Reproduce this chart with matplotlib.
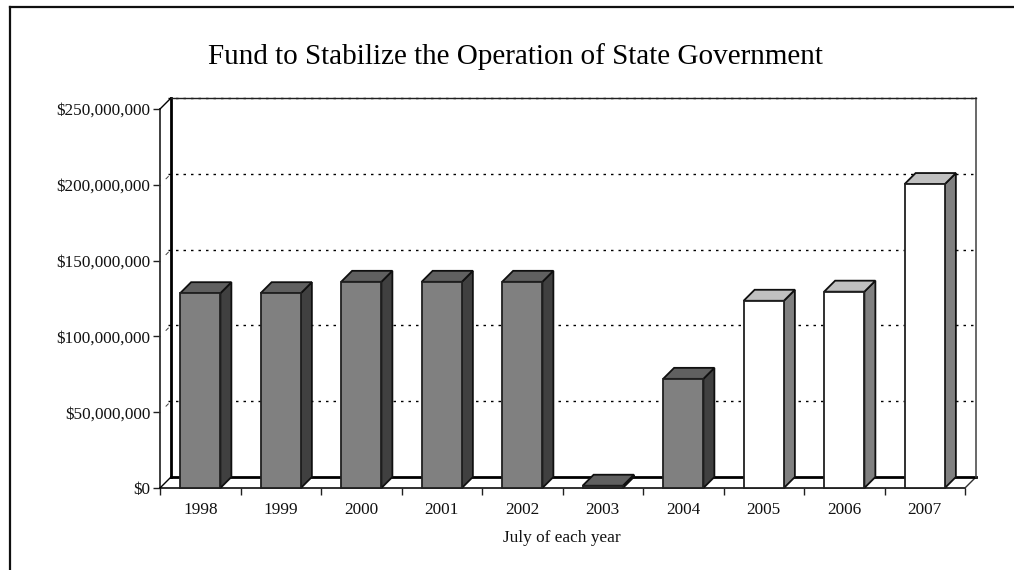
import matplotlib
matplotlib.use("Agg")
import matplotlib.pyplot as plt
from matplotlib.lines import Line2D
from matplotlib.patches import Polygon
import numpy as np

years = ["1998", "1999", "2000", "2001", "2002", "2003", "2004", "2005", "2006", "2007"]
balance = [128.5e6, 128.5e6, 136e6, 136e6, 136e6, 1.5e6, 72e6, 123.5e6, 129.5e6, 200.5e6]
projected = [False, False, False, False, False, False, False, True, True, True]
y_ticks = [0, 50e6, 100e6, 150e6, 200e6, 250e6]
y_labels = ["$0", "$50,000,000", "$100,000,000", "$150,000,000", "$200,000,000", "$250,000,000"]

W, H = 1014, 570
plt.rcParams["font.family"] = ["Liberation Serif", "DejaVu Serif"]

fig = plt.figure(figsize=(W / 100, H / 100), dpi=100)
ax = fig.add_axes([160 / W, (H - 488) / H, 805 / W, 379 / H])
ax.set_xlim(-0.5, 9.5)
ax.set_ylim(0, 250e6)
ax.patch.set_visible(False)

# 3d look: everything behind the front plane is shifted by 11 px
dx = 11 / 80.5
dy = 11 / 379 * 250e6
x0, x1 = -0.5, 9.5
top = 250e6

for s in ax.spines.values():
    s.set_visible(False)

# walls and floor
ax.plot([x0, x0], [0, top], color="#303030", lw=1.3, clip_on=False, zorder=2)
ax.plot([x0, x1], [0, 0], color="#202020", lw=1.3, clip_on=False, zorder=2)
ax.plot([x0, x0 + dx], [0, dy], color="black", lw=1, clip_on=False, zorder=2)
ax.plot([x1, x1 + dx], [0, dy], color="#303030", lw=1, clip_on=False, zorder=2)
ax.plot([x0, x0 + dx], [top, top + dy], color="black", lw=1, clip_on=False, zorder=2)
ax.plot([x0 + dx, x0 + dx], [dy, top + dy], color="black", lw=2, clip_on=False, zorder=2)
ax.plot([x0 + dx, x1 + dx], [dy, dy], color="black", lw=2, clip_on=False, zorder=2)
ax.plot([x1 + dx, x1 + dx], [dy, top + dy], color="#404040", lw=1.1, clip_on=False, zorder=2)
ax.plot([x0 + dx, x1 + dx], [top + dy, top + dy], color="#202020", lw=1, clip_on=False, zorder=2)

# dotted gridlines on the back wall plus the small marks on the side wall
for v in y_ticks[1:]:
    ax.plot([x0 + dx * 0.75, x1 + dx * 0.7], [v + dy, v + dy], color="black", lw=1,
            linestyle=(0, (1.8, 3.6)), dash_capstyle="butt", clip_on=False, zorder=1)
for v in y_ticks[1:-1]:
    ax.plot([x0 + dx * 0.55, x0 + dx * 0.75], [v + dy * 0.55, v + dy * 0.75], color="#404040",
            lw=0.7, clip_on=False, zorder=1)

# bars
width = 0.5
for i, v in enumerate(balance):
    left, right = i - width / 2, i + width / 2
    if projected[i]:
        front, side, cap = "white", "#808080", "#c0c0c0"
    else:
        front, side, cap = "#808080", "#404040", "#606060"
    ax.add_patch(Polygon([(right, 0), (right + dx, dy), (right + dx, v + dy), (right, v)],
                         facecolor=side, edgecolor="#101010", lw=1.3, clip_on=False, zorder=3))
    ax.add_patch(Polygon([(left, v), (left + dx, v + dy), (right + dx, v + dy), (right, v)],
                         facecolor=cap, edgecolor="#101010", lw=1.3, clip_on=False, zorder=3))
    ax.bar(i, v, width=width, color=front, edgecolor="#202020", lw=1.3, clip_on=False, zorder=4)

ax.set_yticks(y_ticks)
ax.set_yticklabels(y_labels, fontsize=12.4, color="#111111")
ax.set_xticks(np.arange(-0.5, 10, 1))
ax.set_xticklabels([])
ax.set_xticks(np.arange(10), minor=True)
ax.set_xticklabels(years, minor=True, fontsize=12.4, color="#111111")
ax.tick_params(axis="y", length=5, width=1, pad=2, color="#202020")
ax.tick_params(axis="x", which="major", length=5, width=1, color="#202020")
ax.tick_params(axis="x", which="minor", length=0, pad=10)

fig.text(515.5 / W, 1 - 56.5 / H, "Fund to Stabilize the Operation of State Government",
         fontsize=21, ha="center", va="center", color="black")
fig.text(562 / W, 1 - 538 / H, "July of each year", fontsize=12.4, ha="center", va="center",
         color="#111111")

# outer frame has only top and left edges in view
fig.add_artist(Line2D([10 / W, 10 / W], [0, 1 - 7 / H], color="#101010", lw=1.6))
fig.add_artist(Line2D([10 / W, 1], [1 - 7 / H, 1 - 7 / H], color="#101010", lw=1.6))

fig.savefig("out.png", dpi=100)
